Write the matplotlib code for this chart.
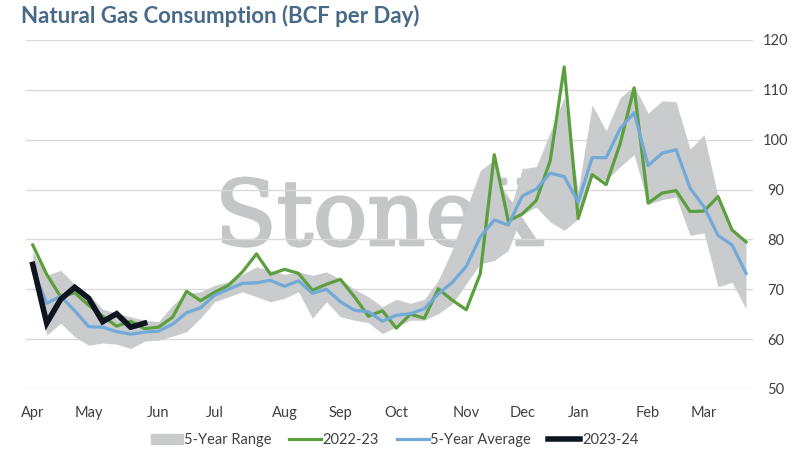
import matplotlib.pyplot as plt
import matplotlib.patheffects as pe
from matplotlib.patches import Patch
from matplotlib.lines import Line2D
import numpy as np

# weekly data, Apr -> Mar (52 weeks)
range_low = [73.5, 60.8, 63.2, 60.5, 58.8, 59.2, 59.0, 58.1, 59.6, 59.8, 60.6, 61.5,
             64.2, 67.5, 68.5, 69.5, 68.5, 67.5, 68.2, 69.5, 64.2, 67.5, 64.5, 63.8,
             63.3, 61.1, 62.5, 63.8, 63.8, 65.1, 67.1, 71.1, 75.1, 75.8, 77.8, 85.0,
             86.5, 83.5, 81.8, 84.1, 92.8, 91.8, 94.6, 97.0, 87.0, 88.0, 88.5, 80.8,
             81.3, 70.5, 71.4, 66.1]
range_high = [77.5, 72.8, 73.8, 71.0, 69.0, 66.0, 65.2, 64.5, 63.8, 63.5, 66.8, 69.2,
              69.5, 70.8, 71.5, 73.0, 74.5, 73.8, 73.0, 73.5, 72.8, 73.5, 72.0, 70.0,
              68.5, 66.5, 68.0, 67.2, 68.0, 71.8, 78.0, 86.0, 93.8, 96.0, 84.5, 94.2,
              94.6, 101.5, 108.5, 89.8, 107.0, 101.8, 108.4, 110.8, 105.3, 107.8, 107.6, 98.1,
              101.0, 88.6, 81.9, 79.5]
y2022 = [78.9, 73.0, 68.5, 69.3, 66.8, 64.6, 62.6, 63.6, 62.1, 62.4, 64.4, 69.6,
         67.7, 69.4, 70.8, 73.5, 77.1, 73.0, 74.0, 73.2, 69.8, 71.0, 72.0, 68.5,
         64.6, 65.7, 62.2, 65.0, 64.2, 70.1, 67.8, 65.9, 73.1, 97.0, 83.7, 85.1,
         87.8, 95.8, 114.6, 84.2, 93.0, 91.0, 99.2, 110.4, 87.3, 89.3, 89.8, 85.6,
         85.7, 88.6, 81.9, 79.5]
avg5 = [74.0, 67.2, 68.6, 65.7, 62.5, 62.4, 61.5, 61.0, 61.4, 61.6, 63.0, 65.3,
        66.3, 68.8, 70.0, 71.2, 71.3, 71.8, 70.6, 71.7, 69.2, 70.0, 67.5, 65.8,
        65.5, 63.6, 64.8, 65.1, 66.1, 69.1, 71.4, 74.6, 80.5, 83.9, 82.9, 88.7,
        90.1, 93.3, 92.6, 87.5, 96.4, 96.4, 102.2, 105.4, 94.8, 97.3, 98.0, 90.3,
        86.5, 80.8, 78.9, 73.2]
y2023 = [75.0, 63.2, 68.0, 70.4, 68.2, 63.5, 65.1, 62.4, 63.2]

months = ['Apr', 'May', 'Jun', 'Jul', 'Aug', 'Sep', 'Oct', 'Nov', 'Dec', 'Jan', 'Feb', 'Mar']
month_week = [0, 4, 9, 13, 18, 22, 26, 31, 35, 39, 44, 48]

plt.rcParams['font.family'] = ['Lato', 'DejaVu Sans']

fig = plt.figure(figsize=(7.96, 4.57), dpi=100)
ax = fig.add_axes([0.0323, 0.1488, 0.9137, 0.7637])

wk = np.arange(len(y2022))
ax.fill_between(wk, range_low, range_high, color='#c9cbcc', lw=0, zorder=2)
ax.plot(wk, y2022, color='#5b9f3e', lw=2.3, zorder=3)
ax.plot(wk, avg5, color='#71a9d9', lw=2.3, zorder=4)
ax.plot(np.arange(len(y2023)), y2023, color='#0e1420', lw=4, zorder=5,
        solid_joinstyle='miter')

ax.set_xlim(-0.5, len(wk) - 0.5)
ax.set_ylim(50, 120)
ax.set_yticks(range(50, 121, 10))
ax.yaxis.tick_right()
ax.tick_params(axis='y', length=0, pad=16.5, labelsize=10.5, labelcolor='#404040')
for t in ax.get_yticklabels():
    t.set_horizontalalignment('center')
ax.set_xticks(month_week)
ax.set_xticklabels(months)
ax.tick_params(axis='x', length=0, pad=12, labelsize=10.5, labelcolor='#404040')
ax.grid(axis='y', color='#d9d9d9', lw=1)
ax.set_axisbelow(True)
for s in ax.spines.values():
    s.set_visible(False)

# watermark, kept inside the axes so the series draw over it
ax.text(0.270, 0.464, 'StoneX', transform=fig.transFigure, family='DejaVu Serif',
        fontsize=65, color='#c5c6c8', ha='left', va='baseline', zorder=0.4,
        path_effects=[pe.withStroke(linewidth=2, foreground='#c5c6c8')])
ax.text(0.702, 0.575, '®', transform=fig.transFigure, family='DejaVu Sans',
        fontsize=9, color='#c5c6c8', ha='left', va='baseline', zorder=0.4)

fig.text(0.026, 0.965, 'Natural Gas Consumption (BCF per Day)', fontsize=16,
         fontweight='bold', color='#466a87', ha='left', va='center')

handles = [Patch(color='#c9cbcc'),
           Line2D([], [], color='#5b9f3e', lw=2.3),
           Line2D([], [], color='#71a9d9', lw=2.3),
           Line2D([], [], color='#0e1420', lw=4)]
labels = ['5-Year Range', '2022-23', '5-Year Average', '2023-24']
leg = fig.legend(handles, labels, loc='center', bbox_to_anchor=(0.4956, 0.037),
                 ncol=4, frameon=False, fontsize=10.5, handlelength=2.2,
                 handletextpad=0.1, columnspacing=1.2)
for t in leg.get_texts():
    t.set_color('#404040')

fig.savefig('out.png', dpi=100)
